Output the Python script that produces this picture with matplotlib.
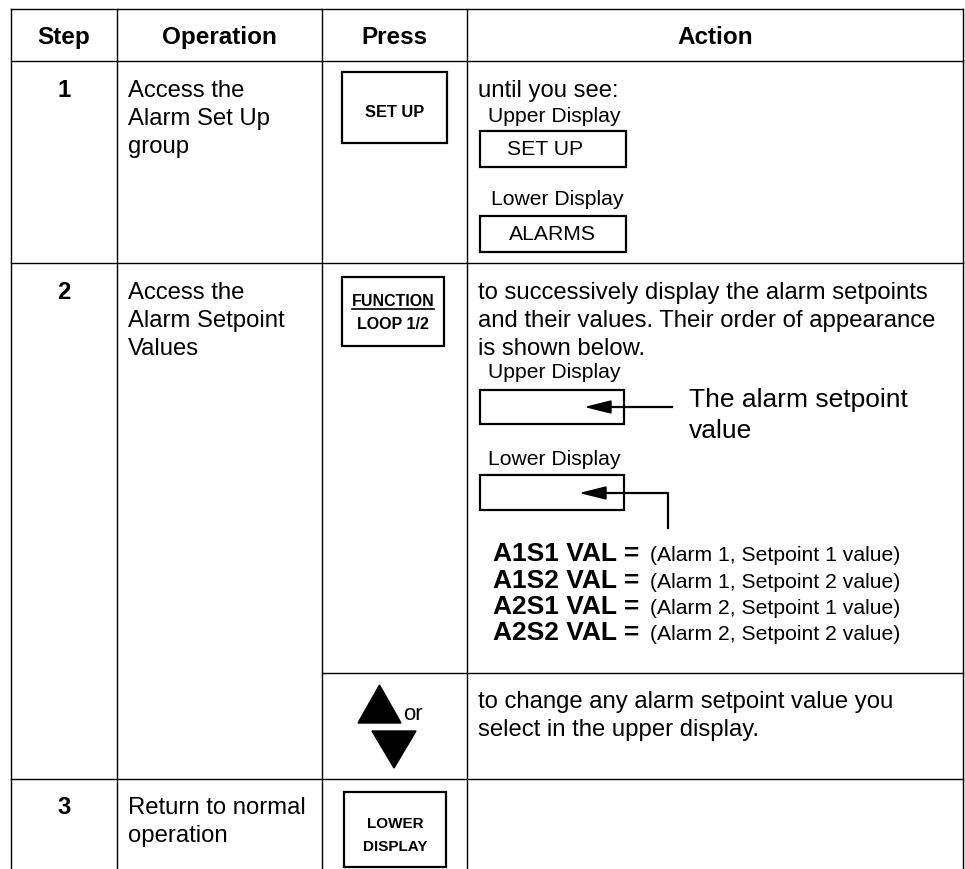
import matplotlib
matplotlib.use("Agg")
import matplotlib.pyplot as plt
from matplotlib.patches import Rectangle, Polygon

plt.rcParams['font.family'] = ['Liberation Sans', 'DejaVu Sans']

# table content
headers = ["Step", "Operation", "Press", "Action"]
steps = ["1", "2", "3"]
operations = [["Access the", "Alarm Set Up", "group"],
              ["Access the", "Alarm Setpoint", "Values"],
              ["Return to normal", "operation"]]
keys = [["SET UP"], ["FUNCTION", "LOOP 1/2"], ["LOWER", "DISPLAY"]]
row1_action = "until you see:"
display_names = ["Upper Display", "Lower Display"]
row1_displays = ["SET UP", "ALARMS"]
row2_action = ["to successively display the alarm setpoints",
               "and their values. Their order of appearance",
               "is shown below."]
setpoint_note = ["The alarm setpoint", "value"]
codes = ["A1S1 VAL =", "A1S2 VAL =", "A2S1 VAL =", "A2S2 VAL ="]
meanings = ["(Alarm 1, Setpoint 1 value)", "(Alarm 1, Setpoint 2 value)",
            "(Alarm 2, Setpoint 1 value)", "(Alarm 2, Setpoint 2 value)"]
arrow_action = ["to change any alarm setpoint value you",
                "select in the upper display."]

W, H = 965, 869
fig = plt.figure(figsize=(W / 100, H / 100), dpi=100)
ax = fig.add_axes([0, 0, 1, 1])
ax.set_xlim(0, W)
ax.set_ylim(H, 0)
ax.axis('off')

cols = [11, 117, 322, 467, 963]
top, head_bot, r1, split, r3 = 9, 61, 263, 673, 779
lw = 1.0

# grid
for x in cols:
    ax.plot([x, x], [top, H], color='black', lw=lw)
for y in [top, head_bot, r1, r3]:
    ax.plot([cols[0], cols[-1]], [y, y], color='black', lw=lw)
ax.plot([cols[2], cols[-1]], [split, split], color='black', lw=lw)

# header
for i, h in enumerate(headers):
    ax.text((cols[i] + cols[i + 1]) / 2, 44, h, ha='center', va='baseline',
            fontsize=17.5, fontweight='bold')

body = 17.2
small = 15.2
step_y = [97, 299, 814]
for s, y0, ops in zip(steps, step_y, operations):
    ax.text((cols[0] + cols[1]) / 2, y0, s, ha='center', va='baseline',
            fontsize=body, fontweight='bold')
    for k, line in enumerate(ops):
        ax.text(128, y0 + k * 28, line, ha='left', va='baseline', fontsize=body)


def box(x0, y0, x1, y1, lw=1.6):
    ax.add_patch(Rectangle((x0, y0), x1 - x0, y1 - y0, fill=False,
                           edgecolor='black', lw=lw))


# press keys
box(342, 72, 447, 143)
ax.text(394.5, 117, keys[0][0], ha='center', va='baseline', fontsize=11.8,
        fontweight='bold')
box(342, 277, 444, 346)
t_fun = ax.text(393, 306, keys[1][0], ha='center', va='baseline', fontsize=11.5,
                fontweight='bold')
ax.text(393, 329, keys[1][1], ha='center', va='baseline', fontsize=11.5,
        fontweight='bold')
box(344, 792, 446, 867)
ax.text(395, 828, keys[2][0], ha='center', va='baseline', fontsize=11,
        fontweight='bold')
ax.text(395, 851, keys[2][1], ha='center', va='baseline', fontsize=11,
        fontweight='bold')

# up / down arrow keys
ax.add_patch(Polygon([[358, 723], [401, 723], [379.5, 685]], closed=True,
                     color='black'))
ax.add_patch(Polygon([[372, 731], [416, 731], [394, 768]], closed=True,
                     color='black'))
ax.text(403, 720, "or", ha='left', va='baseline', fontsize=16)

# row 1 action
ax.text(478, 97, row1_action, ha='left', va='baseline', fontsize=body)
ax.text(488, 122, display_names[0], ha='left', va='baseline', fontsize=small)
box(480, 131, 626, 167)
ax.text(545, 155, row1_displays[0], ha='center', va='baseline', fontsize=small)
ax.text(491, 205, display_names[1], ha='left', va='baseline', fontsize=small)
box(480, 216, 626, 252)
ax.text(552, 240, row1_displays[1], ha='center', va='baseline', fontsize=small)

# row 2 action
for k, line in enumerate(row2_action):
    ax.text(478, 299 + k * 28, line, ha='left', va='baseline', fontsize=body)
ax.text(488, 378, display_names[0], ha='left', va='baseline', fontsize=small)
box(480, 390, 624, 424)
ax.text(689, 407, setpoint_note[0], ha='left', va='baseline', fontsize=19)
ax.text(689, 438, setpoint_note[1], ha='left', va='baseline', fontsize=19)
ax.text(488, 465, display_names[1], ha='left', va='baseline', fontsize=small)
box(480, 475, 624, 510)

# pointer arrows
ax.plot([672, 605], [407, 407], color='black', lw=1.6)
ax.add_patch(Polygon([[587, 407], [611, 401], [611, 413]], closed=True,
                     color='black'))
ax.plot([668, 668, 600], [528, 493, 493], color='black', lw=1.6)
ax.add_patch(Polygon([[582, 493], [606, 487], [606, 499]], closed=True,
                     color='black'))

for k, (c, m) in enumerate(zip(codes, meanings)):
    y = 561 + k * 26.5
    ax.text(493, y, c, ha='left', va='baseline', fontsize=19, fontweight='bold')
    ax.text(650, y, m, ha='left', va='baseline', fontsize=small)

for k, line in enumerate(arrow_action):
    ax.text(478, 708 + k * 28, line, ha='left', va='baseline', fontsize=body)

# underline FUNCTION
fig.canvas.draw()
bb = t_fun.get_window_extent().transformed(ax.transData.inverted())
ax.plot([bb.x0, bb.x1], [309, 309], color='black', lw=1.2)

fig.savefig("out.png", dpi=100)
